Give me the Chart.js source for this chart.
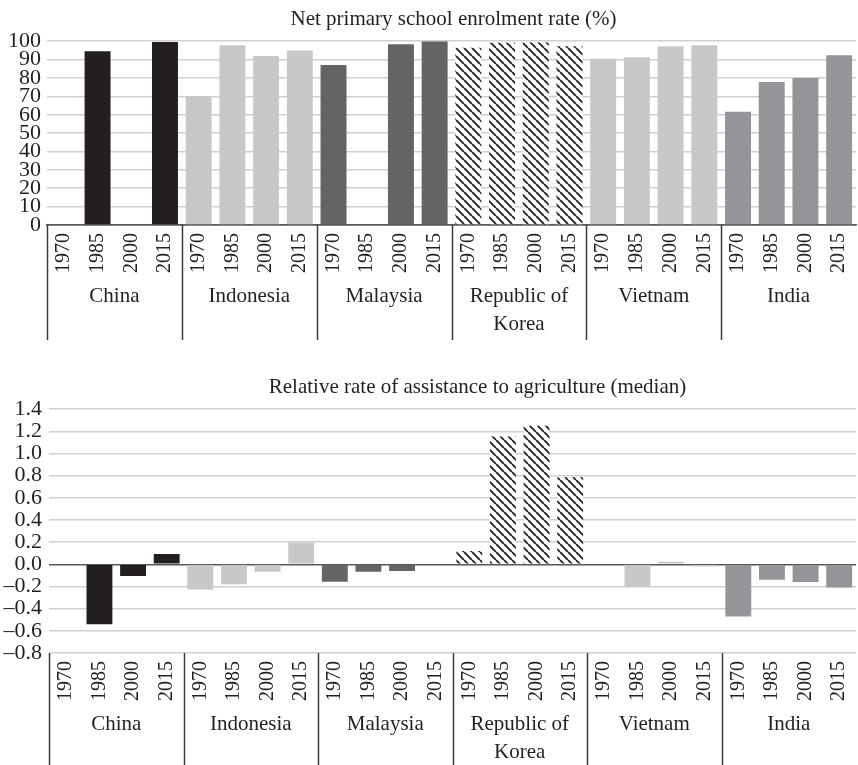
<!DOCTYPE html>
<html>
<head>
<meta charset="utf-8">
<script src="https://cdn.jsdelivr.net/npm/chart.js@4.4.1/dist/chart.umd.min.js"></script>
<style>
  html, body { margin: 0; padding: 0; background: #fff; }
  #wrap { position: relative; width: 858px; height: 765px; overflow: hidden; }
  #c1 { position: absolute; left: 0; top: 0; }
  #c2 { position: absolute; left: 0; top: 368px; }
</style>
</head>
<body>
<div id="wrap">
  <canvas id="c1" width="858" height="340"></canvas>
  <canvas id="c2" width="858" height="400"></canvas>
</div>
<script>
// ---- Data ----
const years = ['1970', '1985', '2000', '2015'];
const countries = ['China', 'Indonesia', 'Malaysia', ['Republic of', 'Korea'], 'Vietnam', 'India'];

// Net primary school enrolment rate (%)
const enrolChina     = [null, 94.5, null, 99.5];
const enrolIndonesia = [70, 97.8, 91.9, 95];
const enrolMalaysia  = [87, null, 98.4, 100];
const enrolKorea     = [96.4, 99.1, 99.3, 97.3];
const enrolVietnam   = [90.5, 91.3, 97.3, 97.8];
const enrolIndia     = [61.6, 77.8, 80, 92.4];

// Relative rate of assistance to agriculture (median)
const rraChina     = [null, -0.54, -0.105, 0.093];
const rraIndonesia = [-0.228, -0.18, -0.066, 0.197];
const rraMalaysia  = [-0.156, -0.066, -0.06, null];
const rraKorea     = [0.12, 1.154, 1.25, 0.786];
const rraVietnam   = [null, -0.2, 0.023, -0.02];
const rraIndia     = [-0.47, -0.14, -0.16, -0.21];

const enrolTicks = { min: 0, max: 100, step: 10 };
const rraTicks = { min: -0.8, max: 1.4, step: 0.2 };

// ---- Styling ----
const FONT = "'Liberation Serif', 'Times New Roman', serif";
Chart.defaults.font.family = FONT;
Chart.defaults.font.size = 21;
Chart.defaults.color = '#231f20';

function makeHatch() {
  const s = 8;
  const pc = document.createElement('canvas');
  pc.width = s; pc.height = s;
  const g = pc.getContext('2d');
  g.fillStyle = '#ffffff';
  g.fillRect(0, 0, s, s);
  g.strokeStyle = '#231f20';
  g.lineWidth = 1.8;
  g.beginPath();
  for (const o of [-s, 0, s]) { g.moveTo(o, 0); g.lineTo(o + s, s); }
  g.stroke();
  return g.createPattern(pc, 'repeat');
}
const hatch = makeHatch();
const countryColors = ['#231f20', '#c7c8ca', '#636466', hatch, '#c7c8ca', '#939598'];

const xLabels = [];
const barColors = [];
countries.forEach((c, ci) => years.forEach(y => { xLabels.push(y); barColors.push(countryColors[ci]); }));

const separators = {
  id: 'separators',
  afterLayout(chart, args, opts) {
    if (opts && opts.titleShift && chart.titleBlock) {
      chart.titleBlock.left += opts.titleShift;
      chart.titleBlock.right += opts.titleShift;
    }
  },
  afterDraw(chart) {
    const xs = chart.scales.x;
    const ctx = chart.ctx;
    const step = xs.getPixelForTick(1) - xs.getPixelForTick(0);
    ctx.save();
    ctx.strokeStyle = '#3a3a3c';
    ctx.lineWidth = 1.5;
    for (let g = 0; g < countries.length; g++) {
      const px = Math.round(xs.getPixelForTick(g * years.length) - step / 2) + 0.5;
      ctx.beginPath();
      ctx.moveTo(px, chart.chartArea.bottom);
      ctx.lineTo(px, chart.height);
      ctx.stroke();
    }
    ctx.restore();
  }
};

function build(canvasId, title, values, t, fmt, xBorder, yWidth, yPad, titleShift) {
  return new Chart(document.getElementById(canvasId), {
    type: 'bar',
    data: {
      labels: xLabels,
      datasets: [{
        data: values,
        backgroundColor: barColors,
        borderWidth: 0,
        categoryPercentage: 1,
        barPercentage: 0.77
      }]
    },
    options: {
      responsive: false,
      animation: false,
      devicePixelRatio: 1,
      layout: { padding: { left: 0, right: 2, top: 0, bottom: 0 } },
      plugins: {
        legend: { display: false },
        tooltip: { enabled: false },
        separators: { titleShift: titleShift },
        title: {
          display: true,
          text: title,
          fullSize: false,
          font: { family: FONT, size: 21, weight: 'normal' },
          color: '#231f20',
          padding: { top: 7, bottom: 9 }
        }
      },
      scales: {
        y: {
          min: t.min, max: t.max,
          afterFit: s => { s.width = yWidth; },
          ticks: {
            stepSize: t.step,
            autoSkip: false,
            padding: yPad,
            font: { size: 22 },
            color: '#231f20',
            callback: fmt
          },
          grid: {
            drawTicks: false,
            color: c => (c.tick && Math.abs(c.tick.value) < 1e-9) ? '#58595b' : '#cfd0d2',
            lineWidth: 1.5
          },
          border: { display: false }
        },
        x: {
          type: 'category',
          labels: xLabels,
          offset: true,
          weight: 0,
          afterFit: s => { s.height = 48; s.paddingLeft = 0; s.paddingRight = 0; },
          ticks: { autoSkip: false, maxRotation: 90, minRotation: 90, padding: 8, font: { size: 20 } },
          grid: { display: false, drawTicks: false },
          border: { display: xBorder, color: '#58595b', width: 1.5 }
        },
        x2: {
          type: 'category',
          position: 'bottom',
          labels: countries,
          offset: true,
          weight: 1,
          afterFit: s => { s.height = 67; s.paddingLeft = 0; s.paddingRight = 0; },
          ticks: { autoSkip: false, maxRotation: 0, minRotation: 0, padding: 10,
                   font: { size: 21, lineHeight: 1.33 } },
          grid: { display: false, drawTicks: false },
          border: { display: false }
        }
      }
    },
    plugins: [separators]
  });
}

const enrolment = [].concat(enrolChina, enrolIndonesia, enrolMalaysia, enrolKorea, enrolVietnam, enrolIndia);
const assistance = [].concat(rraChina, rraIndonesia, rraMalaysia, rraKorea, rraVietnam, rraIndia);

build('c1', 'Net primary school enrolment rate (%)', enrolment, enrolTicks,
  v => String(Math.round(v)), true, 47, 6, 2);
build('c2', 'Relative rate of assistance to agriculture (median)', assistance, rraTicks,
  v => { const s = Math.abs(v).toFixed(1); return v < -1e-9 ? '\u2013' + s : s; }, false, 49, 7, 25);
</script>
</body>
</html>
